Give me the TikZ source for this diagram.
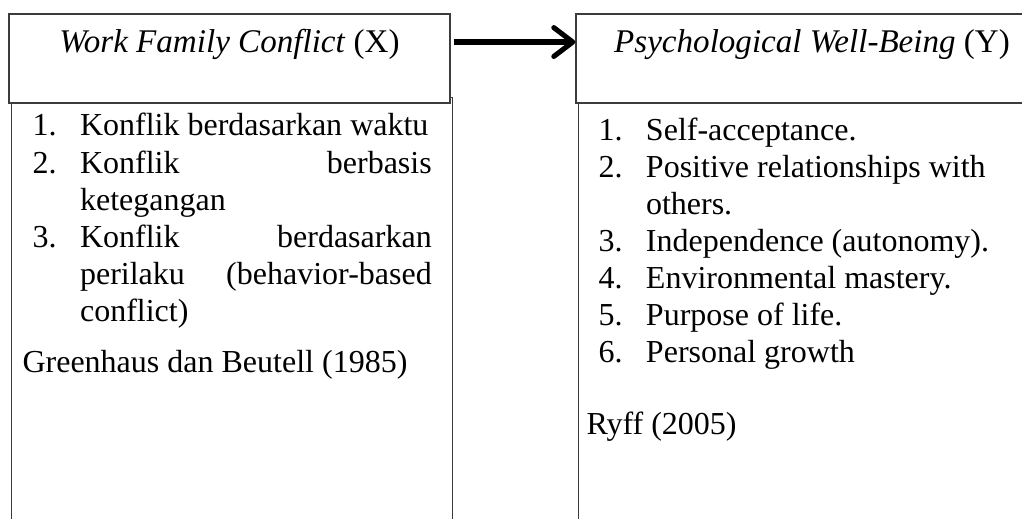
\documentclass[tikz,border=0pt]{standalone}
\usepackage{fontspec}
\setmainfont{Liberation Serif}
\usepackage{tikz}
\usetikzlibrary{arrows.meta,positioning}
\definecolor{figline}{RGB}{60,60,60}
\newcommand{\numitem}[1]{\makebox[17.8pt][l]{#1}}
\newcommand{\numcont}{\hspace*{17.8pt}}
\tikzset{
  headbox/.style={draw=figline, line width=0.5pt, fill=white, inner sep=0pt, text height=14.25pt, text depth=19.1pt, font=\fontsize{12.4pt}{14pt}\selectfont},
  bodybox/.style={draw=figline, line width=0.5pt, fill=white, inner sep=0pt, anchor=north west, minimum height=6.2cm},
  listtext/.style={inner sep=0pt, anchor=base west, align=flush left, font=\fontsize{12pt}{13.875pt}\selectfont},
  line/.style={-{Straight Barb[length=2.5mm, width=3.8mm, line join=round, line cap=round]}, draw=black, line width=1.9pt}
}

\begin{document}
\begin{tikzpicture}[x=1cm,y=1cm]
  \useasboundingbox (0,0) rectangle (13.466,6.838);
  \clip (0,0) rectangle (13.466,6.838);

  \node[bodybox, minimum width=5.811cm] (bodyX) at (0.145,5.560) {};
  \node[bodybox, minimum width=6.22cm] (bodyY) at (7.616,5.481) {};

  \node[headbox, minimum width=5.810cm] (headX) at (3.024,6.067) {\textit{Work Family Conflict} (X)};
  \node[headbox, minimum width=6.22cm] (headY) at (10.699,6.067) {\textit{Psychological Well-Being} (Y)};

  \node[listtext, text width=5.26cm] (listX) at (0.422,5.046) {%
    \numitem{1.}Konflik berdasarkan waktu\\
    \numitem{2.}Konflik\hfill berbasis\\
    \numcont ketegangan\\
    \numitem{3.}Konflik\hfill berdasarkan\\
    \numcont perilaku\hfill (behavior-based\\
    \numcont conflict)};
  \node[listtext] (srcX) at (0.290,1.924) {Greenhaus dan Beutell (1985)};

  \node[listtext, text width=5.4cm] (listY) at (7.879,4.981) {%
    \numitem{1.}Self-acceptance.\\
    \numitem{2.}Positive relationships with\\
    \numcont others.\\
    \numitem{3.}Independence (autonomy).\\
    \numitem{4.}Environmental mastery.\\
    \numitem{5.}Purpose of life.\\
    \numitem{6.}Personal growth};
  \node[listtext] (srcY) at (7.721,1.107) {Ryff (2005)};

  \draw[line] ([xshift=0.04cm, yshift=0.217cm]headX.east) -- ([yshift=0.217cm]headY.west);
\end{tikzpicture}
\end{document}
